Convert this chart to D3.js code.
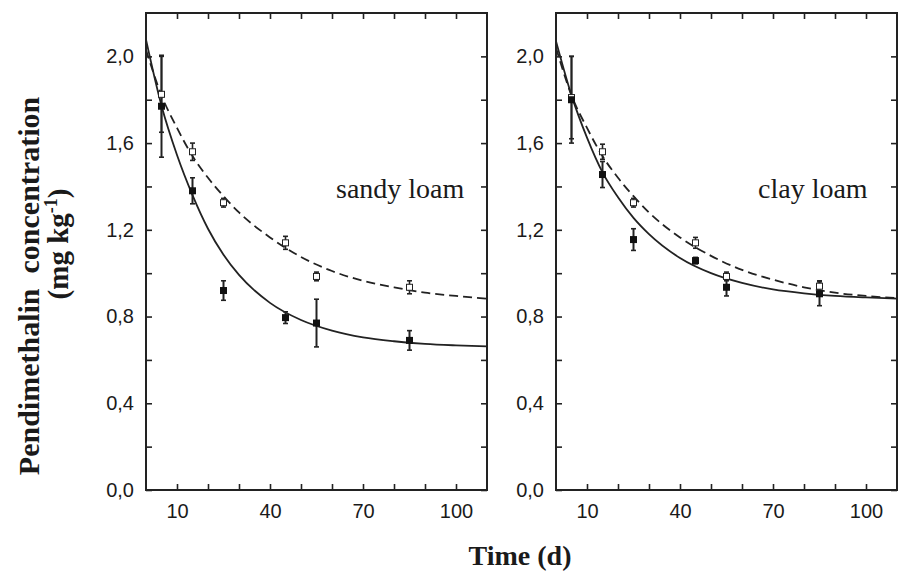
<!DOCTYPE html>
<html>
<head>
	<meta charset="utf-8">
	<script src="https://d3js.org/d3.v7.min.js"></script>
	<style type="text/css">
		body { margin: 0; background: #fff; }
		svg text.tick-lbl { font-family: 'Liberation Sans', Arial, sans-serif; font-size: 20px; fill: #1a1a1a; }
		svg text.serif { font-family: 'Liberation Serif', 'Times New Roman', serif; fill: #1a1a1a; }
	</style>
</head>
<body>
	<script type="text/javascript">
		// sampling days
		const days = [5, 15, 25, 45, 55, 85];

		// sandy loam
		const sandyFilled    = [1.77, 1.38, 0.92, 0.795, 0.77, 0.69];
		const sandyFilledErr = [0.235, 0.06, 0.045, 0.027, 0.11, 0.045];
		const sandyOpen      = [1.825, 1.56, 1.325, 1.14, 0.985, 0.935];
		const sandyOpenErr   = [0.175, 0.04, 0.02, 0.03, 0.02, 0.03];

		// clay loam
		const clayFilled    = [1.80, 1.455, 1.155, 1.058, 0.935, 0.905];
		const clayFilledErr = [0.2, 0.06, 0.05, 0.015, 0.04, 0.055];
		const clayOpen      = [1.81, 1.56, 1.325, 1.14, 0.985, 0.94];
		const clayOpenErr   = [0.19, 0.035, 0.02, 0.025, 0.02, 0.025];

		// fitted curves
		const fitDays    = [0, 5, 10, 15, 20, 25, 30, 40, 50, 60, 70, 80, 90, 100, 110];
		const sandySolid = [2.077, 1.772, 1.545, 1.36, 1.205, 1.085, 0.992, 0.863, 0.784, 0.735, 0.704, 0.686, 0.674, 0.667, 0.662];
		const sandyDash  = [2.03, 1.82, 1.67, 1.54, 1.44, 1.355, 1.28, 1.165, 1.075, 1.01, 0.965, 0.935, 0.91, 0.895, 0.882];
		const claySolid  = [2.07, 1.82, 1.625, 1.465, 1.35, 1.255, 1.18, 1.07, 1.0, 0.955, 0.925, 0.907, 0.895, 0.888, 0.883];
		const clayDash   = [2.04, 1.82, 1.67, 1.54, 1.44, 1.355, 1.28, 1.165, 1.08, 1.015, 0.97, 0.935, 0.91, 0.895, 0.885];

		const xTicks = [10, 20, 30, 40, 50, 60, 70, 80, 90, 100];
		const xLabels = [10, 40, 70, 100];
		const yTicks = [0, 0.2, 0.4, 0.6, 0.8, 1.0, 1.2, 1.4, 1.6, 1.8, 2.0];
		const yLabels = [0, 0.4, 0.8, 1.2, 1.6, 2.0];

		const W = 900, H = 571;
		const plotTop = 13, plotBottom = 490, pw = 341;

		var svg = d3.select('body').append('svg')
			.attr('width', W)
			.attr('height', H);

		var y = d3.scaleLinear().domain([0, 2.2]).range([plotBottom, plotTop]);

		function fmt(d) {
			return d3.format('.1f')(d).replace('.', ',');
		}

		function panel(left, label, labelX, filled, filledErr, open, openErr, solid, dash) {
			var x = d3.scaleLinear().domain([0, 110]).range([left, left + pw]);
			var g = svg.append('g');
			var clipId = 'clip' + left;

			svg.append('clipPath').attr('id', clipId)
				.append('rect')
				.attr('x', left).attr('y', plotTop)
				.attr('width', pw).attr('height', plotBottom - plotTop);

			// axes (ticks inward)
			var ax = [
				d3.axisBottom(x).tickValues(xTicks).tickSize(-6).tickPadding(14)
					.tickFormat(d => xLabels.includes(d) ? d : ''),
				d3.axisTop(x).tickValues(xTicks).tickSize(-6).tickFormat(''),
				d3.axisLeft(y).tickValues(yTicks).tickSize(-6).tickPadding(12)
					.tickFormat(d => yLabels.some(v => Math.abs(v - d) < 1e-6) ? fmt(d) : ''),
				d3.axisRight(y).tickValues(yTicks).tickSize(-6).tickFormat('')
			];
			var tr = ['translate(0,' + plotBottom + ')', 'translate(0,' + plotTop + ')',
			          'translate(' + left + ',0)', 'translate(' + (left + pw) + ',0)'];
			ax.forEach(function(a, i) {
				var ag = g.append('g').attr('transform', tr[i]).call(a);
				ag.select('.domain').remove();
				ag.selectAll('line').attr('stroke', '#222').attr('stroke-width', 1.6);
				ag.selectAll('text').attr('class', 'tick-lbl').attr('font-size', null).attr('font-family', null).attr('fill', null);
			});

			g.append('rect')
				.attr('x', left).attr('y', plotTop)
				.attr('width', pw).attr('height', plotBottom - plotTop)
				.attr('fill', 'none')
				.attr('stroke', '#222')
				.attr('stroke-width', 2);

			var line = d3.line()
				.x((d, i) => x(fitDays[i]))
				.y(d => y(d))
				.curve(d3.curveMonotoneX);

			var plot = g.append('g').attr('clip-path', 'url(#' + clipId + ')');

			plot.append('path').datum(dash)
				.attr('d', line)
				.attr('fill', 'none')
				.attr('stroke', '#222')
				.attr('stroke-width', 1.8)
				.attr('stroke-dasharray', '9,5');

			plot.append('path').datum(solid)
				.attr('d', line)
				.attr('fill', 'none')
				.attr('stroke', '#222')
				.attr('stroke-width', 1.8);

			function errbars(vals, errs, sw) {
				var eg = g.append('g');
				days.forEach(function(d, i) {
					var cx = x(d), y1 = y(vals[i] + errs[i]), y2 = y(vals[i] - errs[i]);
					eg.append('line').attr('x1', cx).attr('x2', cx).attr('y1', y1).attr('y2', y2)
						.attr('stroke', '#222').attr('stroke-width', sw);
					[y1, y2].forEach(function(yy) {
						eg.append('line').attr('x1', cx - 2.5).attr('x2', cx + 2.5).attr('y1', yy).attr('y2', yy)
							.attr('stroke', '#222').attr('stroke-width', 1.6);
					});
				});
			}

			errbars(filled, filledErr, 2);
			errbars(open, openErr, 1.6);

			g.append('g').selectAll('rect')
				.data(open)
				.enter()
				.append('rect')
				.attr('x', (d, i) => x(days[i]) - 3)
				.attr('y', d => y(d) - 3)
				.attr('width', 6)
				.attr('height', 6)
				.attr('fill', '#fff')
				.attr('stroke', '#222')
				.attr('stroke-width', 1);

			g.append('g').selectAll('rect')
				.data(filled)
				.enter()
				.append('rect')
				.attr('x', (d, i) => x(days[i]) - 3.5)
				.attr('y', d => y(d) - 3.5)
				.attr('width', 7)
				.attr('height', 7)
				.attr('fill', '#111');

			g.append('text')
				.attr('class', 'serif')
				.attr('x', labelX)
				.attr('y', 198)
				.attr('font-size', 28)
				.text(label);
		}

		panel(146, 'sandy loam', 336, sandyFilled, sandyFilledErr, sandyOpen, sandyOpenErr, sandySolid, sandyDash);
		panel(556, 'clay loam', 758, clayFilled, clayFilledErr, clayOpen, clayOpenErr, claySolid, clayDash);

		// axis titles
		svg.append('text')
			.attr('class', 'serif')
			.attr('x', 520)
			.attr('y', 565)
			.attr('text-anchor', 'middle')
			.attr('font-size', 28)
			.attr('font-weight', 'bold')
			.text('Time (d)');

		svg.append('text')
			.attr('class', 'serif')
			.attr('transform', 'translate(39,286) rotate(-90)')
			.attr('text-anchor', 'middle')
			.attr('font-size', 30)
			.attr('font-weight', 'bold')
			.style('white-space', 'pre')
			.text('Pendimethalin  concentration');

		var t2 = svg.append('text')
			.attr('class', 'serif')
			.attr('transform', 'translate(68,244) rotate(-90)')
			.attr('text-anchor', 'middle')
			.attr('font-size', 29)
			.attr('font-weight', 'bold');
		t2.append('tspan').text('(mg kg');
		t2.append('tspan').attr('font-size', 18).attr('dy', -11).text('-1');
		t2.append('tspan').attr('dy', 11).text(')');
	</script>
</body>
</html>
